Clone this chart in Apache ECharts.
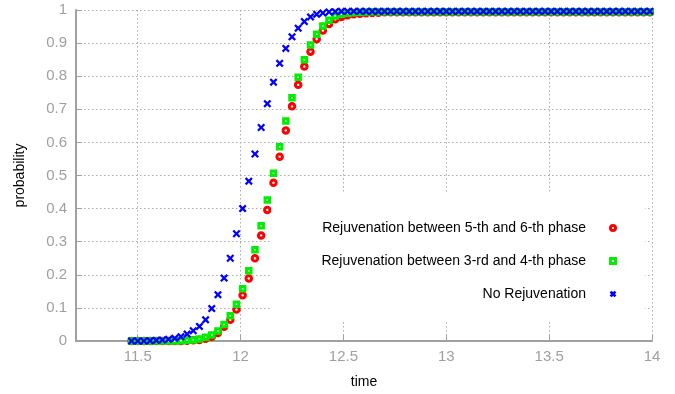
<!DOCTYPE html>
<html>
<head>
<meta charset="utf-8">
<script src="https://cdn.jsdelivr.net/npm/echarts/dist/echarts.min.js"></script>
<style>
  html, body { margin: 0; padding: 0; background: #fff; }
  #chart { width: 675px; height: 394px; }
</style>
</head>
<body>
<div id="chart"></div>
<script>
// time grid of the samples
var times = [
  11.47, 11.50, 11.53, 11.56, 11.59, 11.62, 11.65, 11.68, 11.71, 11.74,
  11.77, 11.80, 11.83, 11.86, 11.89, 11.92, 11.95, 11.98, 12.01, 12.04,
  12.07, 12.10, 12.13, 12.16, 12.19, 12.22, 12.25, 12.28, 12.31, 12.34,
  12.37, 12.40, 12.43, 12.46, 12.49, 12.52, 12.55, 12.58, 12.61, 12.64,
  12.67, 12.70, 12.73, 12.76, 12.79, 12.82, 12.85, 12.88, 12.91, 12.94,
  12.97, 13.00, 13.03, 13.06, 13.09, 13.12, 13.15, 13.18, 13.21, 13.24,
  13.27, 13.30, 13.33, 13.36, 13.39, 13.42, 13.45, 13.48, 13.51, 13.54,
  13.57, 13.60, 13.63, 13.66, 13.69, 13.72, 13.75, 13.78, 13.81, 13.84,
  13.87, 13.90, 13.93, 13.96, 13.99
]

// Rejuvenation between 5-th and 6-th phase
var rej56 = [
  0, 0, 0, 0, 0, 0, 0, 0, 0, 0.001,
  0.002, 0.003, 0.007, 0.013, 0.024, 0.043, 0.064, 0.095, 0.138, 0.189,
  0.25, 0.319, 0.396, 0.478, 0.557, 0.636, 0.709, 0.774, 0.829, 0.874,
  0.912, 0.938, 0.958, 0.972, 0.979, 0.984, 0.987, 0.989, 0.99, 0.991,
  0.992, 0.993, 0.993, 0.993, 0.993, 0.993, 0.993, 0.993, 0.993, 0.993,
  0.993, 0.993, 0.993, 0.993, 0.993, 0.993, 0.993, 0.993, 0.993, 0.993,
  0.993, 0.993, 0.993, 0.993, 0.993, 0.993, 0.993, 0.993, 0.993, 0.993,
  0.993, 0.993, 0.993, 0.993, 0.993, 0.993, 0.993, 0.993, 0.993, 0.993,
  0.993, 0.993, 0.993, 0.993, 0.993
]

// Rejuvenation between 3-rd and 4-th phase
var rej34 = [
  0, 0, 0, 0, 0, 0, 0, 0, 0.001, 0.002,
  0.003, 0.006, 0.011, 0.018, 0.03, 0.05, 0.076, 0.111, 0.158, 0.212,
  0.276, 0.348, 0.426, 0.507, 0.587, 0.665, 0.735, 0.797, 0.85, 0.894,
  0.927, 0.952, 0.969, 0.982, 0.987, 0.99, 0.992, 0.993, 0.994, 0.995,
  0.995, 0.995, 0.995, 0.995, 0.995, 0.995, 0.995, 0.995, 0.995, 0.995,
  0.995, 0.995, 0.995, 0.995, 0.995, 0.995, 0.995, 0.995, 0.995, 0.995,
  0.995, 0.995, 0.995, 0.995, 0.995, 0.995, 0.995, 0.995, 0.995, 0.995,
  0.995, 0.995, 0.995, 0.995, 0.995, 0.995, 0.995, 0.995, 0.995, 0.995,
  0.995, 0.995, 0.995, 0.995, 0.995
]

// No Rejuvenation
var noRej = [
  0, 0, 0, 0.001, 0.002, 0.003, 0.005, 0.008, 0.013, 0.021,
  0.031, 0.044, 0.064, 0.098, 0.14, 0.19, 0.25, 0.324, 0.40, 0.483,
  0.565, 0.645, 0.717, 0.782, 0.839, 0.884, 0.919, 0.945, 0.965, 0.979,
  0.987, 0.991, 0.994, 0.995, 0.996, 0.996, 0.996, 0.996, 0.996, 0.996,
  0.996, 0.996, 0.996, 0.996, 0.996, 0.996, 0.996, 0.996, 0.996, 0.996,
  0.996, 0.996, 0.996, 0.996, 0.996, 0.996, 0.996, 0.996, 0.996, 0.996,
  0.996, 0.996, 0.996, 0.996, 0.996, 0.996, 0.996, 0.996, 0.996, 0.996,
  0.996, 0.996, 0.996, 0.996, 0.996, 0.996, 0.996, 0.996, 0.996, 0.996,
  0.996, 0.996, 0.996, 0.996, 0.996
]

var xTicks = [11.5, 12, 12.5, 13, 13.5, 14]
var seriesNames = [
  'Rejuvenation between 5-th and 6-th phase',
  'Rejuvenation between 3-rd and 4-th phase',
  'No Rejuvenation'
]

function pairs (ys) {
  return times.map(function (t, i) { return [t, ys[i]] })
}

var axisGray = '#a0a0a0'
var red = '#ff0000'
var green = '#00ee00'
var blue = '#0000ff'
var gridLine = { show: true, lineStyle: { color: '#aaaaaa', width: 1, type: [1.5, 2.5] } }
// filled X shape, gnuplot's "x" point
var crossPath = 'path://M0,2L2,0L5,3L8,0L10,2L7,5L10,8L8,10L5,7L2,10L0,8L3,5Z'

var myChart = echarts.init(document.getElementById('chart'))
myChart.setOption({
  animation: false,
  textStyle: { fontFamily: 'Liberation Sans, Arial, sans-serif' },
  grid: { left: 76, right: 23, top: 10, bottom: 52 },
  legend: {
    orient: 'vertical',
    align: 'right',
    right: 30,
    top: 192,
    padding: [28, 28, 20, 50],
    backgroundColor: '#fff',
    itemWidth: 5,
    itemHeight: 5,
    itemGap: 17,
    formatter: function (n) { return n + '     ' },
    textStyle: { color: '#000', fontSize: 14, lineHeight: 16 },
    data: [
      { name: seriesNames[0], itemStyle: { color: '#fff', borderColor: red, borderWidth: 3 } },
      { name: seriesNames[1], itemStyle: { color: '#fff', borderColor: green, borderWidth: 3 } },
      { name: seriesNames[2], itemStyle: { color: blue, borderColor: blue, borderWidth: 1.2 } }
    ]
  },
  xAxis: {
    type: 'value',
    min: 11.2,
    max: 14,
    name: 'time',
    nameLocation: 'middle',
    nameGap: 34,
    nameTextStyle: { color: '#000', fontSize: 14 },
    axisLine: { lineStyle: { color: axisGray, width: 2 } },
    axisTick: { inside: true, length: 6, customValues: xTicks, lineStyle: { color: axisGray, width: 1 } },
    axisLabel: { customValues: xTicks, color: axisGray, fontSize: 15, margin: 8 },
    splitLine: gridLine
  },
  yAxis: {
    type: 'value',
    min: 0,
    max: 1,
    interval: 0.1,
    name: 'probability',
    nameLocation: 'middle',
    nameGap: 49,
    nameTextStyle: { color: '#000', fontSize: 14 },
    axisLine: { show: true, lineStyle: { color: axisGray, width: 2 } },
    axisTick: { show: true, inside: true, length: 6, lineStyle: { color: axisGray, width: 1 } },
    axisLabel: { color: axisGray, fontSize: 15, margin: 9 },
    splitLine: gridLine
  },
  series: [
    {
      name: seriesNames[0],
      type: 'scatter',
      data: pairs(rej56),
      symbol: 'circle',
      symbolSize: 5.5,
      itemStyle: { color: '#fff', borderColor: red, borderWidth: 3, opacity: 1 }
    },
    {
      name: seriesNames[1],
      type: 'scatter',
      data: pairs(rej34),
      symbol: 'rect',
      symbolSize: 4.5,
      itemStyle: { color: '#fff', borderColor: green, borderWidth: 3, opacity: 1 }
    },
    {
      name: seriesNames[2],
      type: 'scatter',
      data: pairs(noRej),
      symbol: crossPath,
      symbolSize: 8,
      itemStyle: { color: blue, opacity: 1 }
    }
  ]
})
</script>
</body>
</html>
